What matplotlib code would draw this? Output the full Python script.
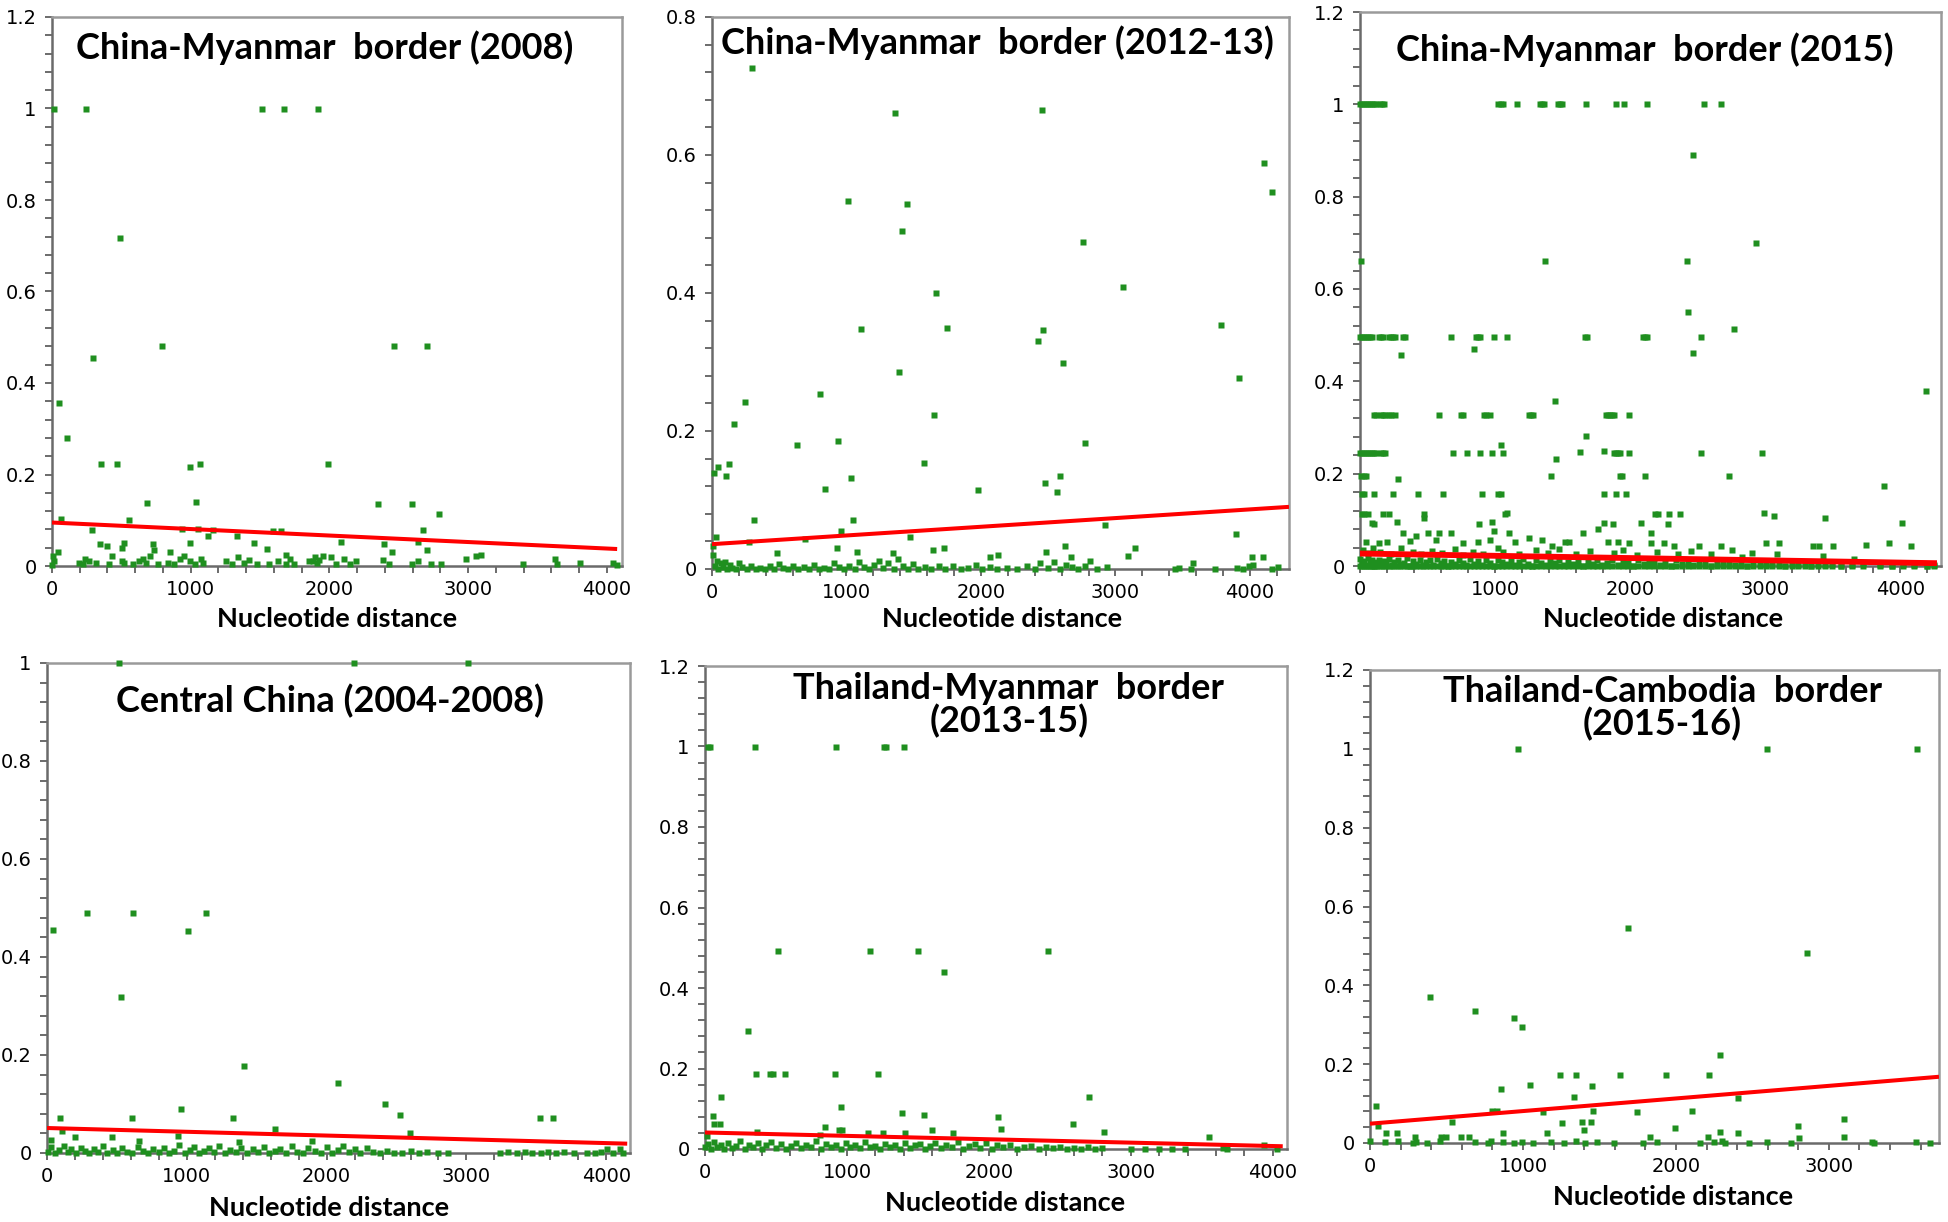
import numpy as np
import matplotlib
matplotlib.use('Agg')
import matplotlib.pyplot as plt
from matplotlib.ticker import MultipleLocator, FuncFormatter

W, H = 1949, 1222

# ---------------- data ----------------
titles = ['China-Myanmar  border (2008)',
          'China-Myanmar  border (2012-13)',
          'China-Myanmar  border (2015)',
          'Central China (2004-2008)',
          'Thailand-Myanmar  border\n(2013-15)',
          'Thailand-Cambodia  border\n(2015-16)']
xmax = [4110, 4290, 4300, 4170, 4100, 3720]
ymax = [1.2, 0.8, 1.2, 1.0, 1.2, 1.2]

# fitted (red) line: value at x=0, slope, x where it ends
fit_start = [0.095, 0.036, 0.027, 0.051, 0.041, 0.049]
fit_slope = [-1.42e-5, 1.26e-5, -4.9e-6, -7.7e-6, -8.4e-6, 3.2e-5]
fit_end = [4075, 4290, 4270, 4150, 4070, 3720]

# panel 1: China-Myanmar border (2008)
p1_x = [15, 248, 1513, 1672, 1916, 493, 299, 791, 2463, 2707,
        51, 110, 352, 472, 994, 1069, 1991, 687, 1039, 2349,
        2597, 2791, 66, 552, 290, 940, 1054, 1164, 1591, 1651,
        2678, 343, 397, 507, 522, 725, 994, 1128, 1337, 1454,
        1552, 2081, 2397, 2642, 2701, 2448, 45, 3090, 1687]
p1_y = [1, 1, 1, 1, 1, 0.718, 0.454, 0.481, 0.481, 0.481,
        0.356, 0.280, 0.222, 0.222, 0.217, 0.222, 0.222, 0.137, 0.140, 0.135,
        0.135, 0.114, 0.103, 0.101, 0.079, 0.080, 0.080, 0.079, 0.076, 0.076,
        0.079, 0.047, 0.043, 0.040, 0.050, 0.047, 0.050, 0.065, 0.065, 0.050,
        0.038, 0.052, 0.047, 0.052, 0.034, 0.031, 0.031, 0.025, 0.025]
p1_low_x = [15, 9, 194, 224, 239, 269, 319, 412, 433, 507,
            522, 582, 627, 657, 678, 707, 737, 761, 836, 851,
            881, 925, 955, 994, 1030, 1075, 1090, 1254, 1299, 1343,
            1388, 1418, 1478, 1567, 1627, 1687, 1716, 1746, 1851, 1881,
            1896, 1910, 1925, 1955, 2015, 2045, 2104, 2149, 2194, 2388,
            2433, 2597, 2642, 2731, 2985, 3394, 3627, 3642, 3806, 4045,
            3060, 2806, 0, 4075]
p1_low_y = [0.012, 0.022, 0.007, 0.004, 0.016, 0.012, 0.007, 0.004, 0.021, 0.012,
            0.007, 0.004, 0.010, 0.016, 0.007, 0.021, 0.034, 0.004, 0.007, 0.030,
            0.004, 0.016, 0.021, 0.012, 0.004, 0.016, 0.007, 0.012, 0.004, 0.019,
            0.007, 0.013, 0.004, 0.004, 0.012, 0.004, 0.016, 0.004, 0.010, 0.012,
            0.019, 0.007, 0.013, 0.021, 0.019, 0.004, 0.016, 0.004, 0.010, 0.013,
            0.004, 0.004, 0.012, 0.004, 0.016, 0.004, 0.016, 0.004, 0.007, 0.007,
            0.021, 0.004, 0.002, 0.003]

# panel 2: China-Myanmar border (2012-13)
p2_x = [299, 1364, 2454, 4102, 4167, 1009, 1448, 1410, 2759, 3056,
        1667, 3781, 1111, 1744, 2460, 2423, 2608, 1389, 3917, 802,
        244, 1648, 167, 938, 630, 2775, 1574, 130, 43, 15,
        105, 1031, 2590, 840, 1975, 2475, 2562, 309, 1046, 2923,
        3895, 957, 31, 1472, 694, 275, 6, 932, 1642, 1728,
        2623, 3148, 2485, 3093, 2068, 2130, 485, 1080, 1343, 2670,
        4012, 4096]
p2_y = [0.726, 0.661, 0.665, 0.588, 0.547, 0.533, 0.529, 0.490, 0.474, 0.409,
        0.400, 0.354, 0.348, 0.350, 0.347, 0.330, 0.298, 0.286, 0.277, 0.253,
        0.242, 0.223, 0.210, 0.185, 0.179, 0.183, 0.153, 0.152, 0.148, 0.139,
        0.135, 0.132, 0.135, 0.116, 0.115, 0.124, 0.111, 0.071, 0.071, 0.064,
        0.051, 0.055, 0.047, 0.047, 0.044, 0.039, 0.033, 0.030, 0.027, 0.031,
        0.033, 0.031, 0.024, 0.019, 0.018, 0.021, 0.023, 0.025, 0.023, 0.018,
        0.018, 0.018]
p2_low_x = [8, 22, 35, 48, 64, 80, 97, 115, 133, 152,
            176, 198, 225, 262, 290, 330, 355, 395, 430, 462,
            498, 530, 566, 600, 640, 685, 720, 760, 795, 830,
            868, 905, 945, 985, 1020, 1060, 1095, 1130, 1168, 1205,
            1240, 1275, 1312, 1350, 1385, 1420, 1460, 1498, 1535, 1580,
            1625, 1690, 1735, 1790, 1850, 1905, 1960, 2010, 2065, 2120,
            2190, 2265, 2340, 2400, 2440, 2495, 2540, 2585, 2630, 2680,
            2720, 2770, 2810, 2860, 2940, 3440, 3475, 3560, 3575, 3740,
            3905, 3950, 3990, 4020, 4160, 4210]
p2_low_y = [0.020, 0.005, 0.012, 0.000, 0.008, 0.003, 0.010, 0.000, 0.006, 0.002,
            0.000, 0.009, 0.003, 0.000, 0.005, 0.000, 0.002, 0.000, 0.004, 0.000,
            0.007, 0.002, 0.000, 0.005, 0.000, 0.003, 0.000, 0.006, 0.000, 0.002,
            0.000, 0.008, 0.003, 0.000, 0.005, 0.000, 0.010, 0.003, 0.000, 0.006,
            0.012, 0.002, 0.008, 0.000, 0.015, 0.004, 0.000, 0.007, 0.000, 0.003,
            0.000, 0.005, 0.000, 0.004, 0.000, 0.002, 0.006, 0.000, 0.003, 0.000,
            0.002, 0.000, 0.004, 0.000, 0.008, 0.002, 0.010, 0.000, 0.006, 0.003,
            0.000, 0.005, 0.012, 0.000, 0.003, 0.000, 0.002, 0.000, 0.008, 0.000,
            0.002, 0.000, 0.004, 0.006, 0.000, 0.003]

# panel 3: China-Myanmar border (2015) -- values sit on discrete levels
p3_levels = [1.0, 0.496, 0.328, 0.244, 0.195, 0.157, 0.113]
p3_level_x = [
    [0, 15, 30, 45, 60, 75, 90, 105, 120, 150, 165, 180, 1024, 1040, 1055, 1162,
     1330, 1345, 1361, 1468, 1483, 1498, 1676, 1896, 1957, 2125, 2547, 2670],
    [0, 15, 31, 46, 61, 76, 92, 138, 153, 168, 214, 229, 245, 260, 321, 336,
     673, 856, 872, 887, 994, 1086, 1667, 1682, 2095, 2110, 2125, 2523],
    [107, 122, 153, 168, 183, 214, 229, 260, 581, 749, 765, 917, 933, 963,
     1254, 1269, 1284, 1820, 1835, 1850, 1865, 1881, 1988],
    [0, 15, 31, 46, 61, 76, 92, 107, 122, 153, 168, 183, 688, 795, 887, 979,
     1055, 1881, 1896, 1911, 1927, 1988],
    [9, 31, 46, 1927, 1942],
    [15, 31, 107, 245, 428, 612, 902, 1024, 1040, 1804, 1896, 1972],
    [15, 31, 61, 168, 214, 474, 1070, 2187, 2202, 2287, 2370],
]
p3_x = [2468, 2930, 6, 1370, 2419, 2431, 2768, 2468, 306, 841,
        4190, 1443, 1673, 1040, 1453, 1416, 284, 1627, 1804, 2972,
        2523, 2728, 2107, 3878, 2988, 3067, 3440, 4015, 4076, 3914,
        3746]
p3_y = [0.891, 0.699, 0.660, 0.660, 0.660, 0.550, 0.514, 0.461, 0.458, 0.470,
        0.379, 0.357, 0.281, 0.262, 0.232, 0.195, 0.188, 0.248, 0.250, 0.244,
        0.244, 0.195, 0.195, 0.173, 0.115, 0.108, 0.104, 0.093, 0.044, 0.049,
        0.046]
p3_mid_x = [86, 107, 275, 474, 878, 979, 1086, 1804, 1872, 2080,
            2278, 321, 413, 505, 581, 673, 994, 1101, 1651, 2248,
            2156, 1758, 46, 138, 199, 367, 566, 765, 872, 963,
            1147, 1254, 1346, 1422, 1514, 1550, 1835, 1911, 1988, 2156,
            2324, 2508, 2670, 2752, 3006, 3104, 3349, 3394, 3502, 3425,
            3089, 2829, 3654,
            20, 60, 95, 150, 230, 300, 390, 450, 530, 610,
            700, 760, 840, 910, 1020, 1060, 1180, 1300, 1390, 1470,
            1600, 1700, 1880, 1950, 2050, 2200, 2350, 2450, 2600, 2900]
p3_mid_y = [0.093, 0.091, 0.095, 0.104, 0.090, 0.095, 0.115, 0.093, 0.091, 0.093,
            0.090, 0.071, 0.066, 0.071, 0.071, 0.071, 0.075, 0.071, 0.071, 0.049,
            0.071, 0.080, 0.053, 0.049, 0.053, 0.054, 0.056, 0.049, 0.053, 0.056,
            0.053, 0.060, 0.056, 0.043, 0.053, 0.053, 0.053, 0.053, 0.049, 0.049,
            0.044, 0.044, 0.044, 0.035, 0.049, 0.049, 0.044, 0.044, 0.044, 0.022,
            0.025, 0.020, 0.016,
            0.035, 0.028, 0.040, 0.030, 0.025, 0.038, 0.030, 0.026, 0.033, 0.028,
            0.036, 0.024, 0.031, 0.027, 0.040, 0.030, 0.026, 0.034, 0.029, 0.037,
            0.025, 0.032, 0.028, 0.035, 0.024, 0.030, 0.027, 0.033, 0.025, 0.028]
p3_low_x = [0, 12, 28, 41, 57, 73, 88, 104, 122, 139,
            158, 177, 196, 214, 236, 255, 278, 299, 322, 347,
            370, 394, 418, 443, 467, 492, 518, 543, 569, 596,
            622, 649, 676, 704, 731, 759, 787, 815, 844, 873,
            902, 931, 961, 991, 1021, 1052, 1083, 1114, 1145, 1177,
            1209, 1241, 1274, 1306, 1339, 1373, 1406, 1440, 1474, 1508,
            1543, 1578, 1613, 1649, 1685, 1721, 1757, 1794, 1831, 1868,
            1906, 1944, 1982, 2021, 2060, 2099, 2139, 2179, 2219, 2260,
            2301, 2342, 2384, 2426, 2468, 2511, 2554, 2597, 2641, 2685,
            2729, 2774, 2819, 2865, 2911, 2957, 3004, 3051, 3098, 3146,
            3194, 3243, 3292, 3341, 3391, 3441, 3492, 3560, 3640, 3720,
            3850, 3940, 4020, 4100, 4200, 4250]
p3_low_y = [0.015, 0.004, 0.010, 0.002, 0.018, 0.006, 0.012, 0.001, 0.008, 0.014,
            0.003, 0.011, 0.006, 0.016, 0.002, 0.009, 0.013, 0.004, 0.007, 0.017,
            0.001, 0.010, 0.005, 0.014, 0.003, 0.008, 0.012, 0.002, 0.015, 0.006,
            0.011, 0.001, 0.009, 0.004, 0.013, 0.007, 0.002, 0.016, 0.005, 0.010,
            0.003, 0.012, 0.006, 0.001, 0.014, 0.008, 0.004, 0.011, 0.002, 0.009,
            0.015, 0.005, 0.001, 0.012, 0.007, 0.003, 0.010, 0.006, 0.013, 0.002,
            0.008, 0.004, 0.011, 0.001, 0.009, 0.005, 0.014, 0.003, 0.007, 0.012,
            0.002, 0.010, 0.006, 0.001, 0.013, 0.004, 0.008, 0.011, 0.003, 0.007,
            0.001, 0.012, 0.005, 0.009, 0.002, 0.006, 0.010, 0.001, 0.008, 0.004,
            0.011, 0.003, 0.006, 0.001, 0.009, 0.005, 0.002, 0.007, 0.004, 0.001,
            0.006, 0.003, 0.008, 0.001, 0.005, 0.002, 0.004, 0.001, 0.003, 0.006,
            0.002, 0.001, 0.004, 0.002, 0.001, 0.003]

# panel 4: Central China (2004-2008)
p4_x = [518, 2195, 3009, 287, 612, 1136, 44, 1012, 530, 1411,
        2083, 2417, 959, 2527, 95, 607, 1328, 3527, 3621, 1633,
        2595, 109, 27, 198, 464, 938, 657, 1376, 1893, 4006,
        4095]
p4_y = [1.0, 1.0, 1.0, 0.489, 0.489, 0.489, 0.455, 0.453, 0.319, 0.177,
        0.143, 0.100, 0.089, 0.078, 0.072, 0.072, 0.072, 0.072, 0.072, 0.049,
        0.040, 0.045, 0.026, 0.032, 0.032, 0.034, 0.025, 0.023, 0.025, 0.008,
        0.008]
p4_low_x = [5, 30, 60, 85, 120, 150, 175, 210, 240, 270,
            300, 335, 365, 400, 430, 470, 500, 540, 575, 610,
            650, 690, 720, 760, 800, 835, 870, 905, 945, 985,
            1020, 1055, 1090, 1120, 1160, 1195, 1230, 1270, 1310, 1350,
            1390, 1430, 1470, 1510, 1550, 1590, 1630, 1670, 1710, 1750,
            1790, 1830, 1870, 1920, 1960, 2000, 2040, 2080, 2120, 2160,
            2200, 2240, 2290, 2330, 2380, 2430, 2480, 2540, 2600, 2660,
            2720, 2800, 2870, 3240, 3300, 3360, 3420, 3470, 3530, 3580,
            3640, 3700, 3770, 3860, 3920, 3960, 4050, 4120]
p4_low_y = [0.003, 0.012, 0.000, 0.006, 0.015, 0.002, 0.008, 0.000, 0.011, 0.004,
            0.000, 0.009, 0.002, 0.014, 0.000, 0.006, 0.001, 0.010, 0.003, 0.000,
            0.012, 0.005, 0.000, 0.008, 0.002, 0.011, 0.000, 0.004, 0.016, 0.001,
            0.007, 0.013, 0.000, 0.005, 0.010, 0.002, 0.014, 0.000, 0.006, 0.003,
            0.011, 0.000, 0.008, 0.002, 0.012, 0.000, 0.005, 0.009, 0.001, 0.014,
            0.003, 0.000, 0.010, 0.004, 0.001, 0.012, 0.000, 0.006, 0.014, 0.002,
            0.009, 0.000, 0.011, 0.003, 0.000, 0.005, 0.001, 0.000, 0.004, 0.000,
            0.002, 0.000, 0.001, 0.000, 0.002, 0.000, 0.003, 0.000, 0.001, 0.002,
            0.000, 0.003, 0.000, 0.001, 0.000, 0.002, 0.000, 0.001]

# panel 5: Thailand-Myanmar border (2013-15)
p5_x = [20, 35, 351, 921, 1263, 1278, 1401, 512, 1161, 1503,
        2418, 1687, 304, 357, 459, 480, 567, 918, 1219, 114,
        2705, 956, 1386, 1541, 2061, 56, 64, 108, 848, 2594,
        942, 962, 2088, 1599, 2813, 3553, 365, 810, 1146, 1257,
        1409, 1746, 15]
p5_y = [1.0, 1.0, 1.0, 1.0, 1.0, 1.0, 1.0, 0.492, 0.492, 0.492,
        0.492, 0.439, 0.294, 0.187, 0.187, 0.187, 0.187, 0.187, 0.187, 0.130,
        0.130, 0.105, 0.089, 0.085, 0.079, 0.082, 0.062, 0.062, 0.055, 0.062,
        0.047, 0.047, 0.050, 0.046, 0.041, 0.029, 0.041, 0.036, 0.040, 0.040,
        0.040, 0.040, 0.032]
p5_low_x = [0, 18, 40, 62, 85, 110, 135, 160, 190, 220,
            250, 280, 310, 340, 370, 400, 430, 465, 500, 535,
            570, 605, 640, 675, 710, 745, 780, 815, 850, 885,
            920, 955, 990, 1025, 1060, 1095, 1130, 1165, 1200, 1235,
            1270, 1305, 1340, 1375, 1410, 1445, 1480, 1515, 1550, 1585,
            1620, 1660, 1700, 1740, 1780, 1820, 1860, 1900, 1940, 1980,
            2020, 2060, 2100, 2150, 2200, 2250, 2300, 2350, 2400, 2450,
            2500, 2550, 2600, 2650, 2700, 2750, 2800, 3000, 3100, 3200,
            3290, 3380, 3650, 3680, 3940, 4030]
p5_low_y = [0.004, 0.012, 0.000, 0.018, 0.006, 0.010, 0.001, 0.015, 0.003, 0.008,
            0.020, 0.000, 0.011, 0.005, 0.014, 0.001, 0.009, 0.017, 0.003, 0.012,
            0.000, 0.007, 0.016, 0.002, 0.010, 0.005, 0.019, 0.001, 0.013, 0.004,
            0.009, 0.000, 0.015, 0.006, 0.011, 0.002, 0.018, 0.004, 0.008, 0.000,
            0.013, 0.006, 0.010, 0.001, 0.016, 0.003, 0.009, 0.012, 0.000, 0.007,
            0.014, 0.002, 0.010, 0.005, 0.017, 0.001, 0.008, 0.012, 0.003, 0.015,
            0.000, 0.009, 0.006, 0.011, 0.001, 0.004, 0.008, 0.000, 0.005, 0.002,
            0.006, 0.000, 0.003, 0.001, 0.004, 0.000, 0.002, 0.000, 0.001, 0.000,
            0.001, 0.000, 0.002, 0.000, 0.010, 0.000]

# panel 6: Thailand-Cambodia border (2015-16)
p6_x = [967, 2598, 3576, 1685, 2856, 389, 688, 940, 992, 2291,
        1239, 1348, 1633, 1932, 2215, 1049, 1454, 859, 1334, 2405,
        41, 796, 832, 1128, 1457, 1747, 2106, 3101, 533, 1258,
        1386, 1448, 54, 1992, 2799, 1402, 103, 179, 1158, 872,
        2291, 2405, 293, 465, 497, 598, 647, 1829, 2209, 3101,
        2802]
p6_y = [1.0, 1.0, 1.0, 0.546, 0.482, 0.370, 0.335, 0.318, 0.295, 0.222,
        0.173, 0.173, 0.173, 0.173, 0.173, 0.147, 0.144, 0.138, 0.117, 0.113,
        0.094, 0.082, 0.082, 0.079, 0.080, 0.079, 0.080, 0.060, 0.053, 0.051,
        0.053, 0.053, 0.042, 0.039, 0.042, 0.033, 0.025, 0.025, 0.025, 0.025,
        0.028, 0.025, 0.016, 0.016, 0.016, 0.016, 0.016, 0.016, 0.016, 0.016,
        0.013]
p6_low_x = [0, 95, 185, 280, 299, 370, 457, 688, 769, 788,
            872, 940, 995, 1068, 1182, 1266, 1348, 1408, 1484, 1598,
            1783, 1875, 2155, 2250, 2299, 2318, 2481, 2598, 2753, 3283,
            3296, 3568, 3663]
p6_low_y = [0.005, 0.002, 0.004, 0.001, 0.003, 0.000, 0.004, 0.002, 0.001, 0.004,
            0.002, 0.000, 0.003, 0.001, 0.002, 0.000, 0.004, 0.001, 0.002, 0.000,
            0.001, 0.003, 0.000, 0.002, 0.004, 0.001, 0.000, 0.002, 0.001, 0.003,
            0.001, 0.002, 0.001]

# collect points per panel
p3_band_x = [x for xs in p3_level_x for x in xs]
p3_band_y = [lv for lv, xs in zip(p3_levels, p3_level_x) for _ in xs]
points = [
    (p1_x + p1_low_x, p1_y + p1_low_y),
    (p2_x + p2_low_x, p2_y + p2_low_y),
    (p3_band_x + p3_x + p3_mid_x + p3_low_x + p3_low_x,
     p3_band_y + p3_y + p3_mid_y + p3_low_y + [0.0] * len(p3_low_x)),
    (p4_x + p4_low_x, p4_y + p4_low_y),
    (p5_x + p5_low_x, p5_y + p5_low_y),
    (p6_x + p6_low_x, p6_y + p6_low_y),
]

# ---------------- layout (pixel boxes: left, right, top, bottom) ----------------
boxes = [(52, 622, 17, 566), (712, 1289, 17, 569), (1360, 1941, 12, 566),
         (47, 630, 663, 1153), (705, 1287, 666, 1149), (1370, 1939, 670, 1143)]
title_pos = [(0.479, 0.945), (0.494, 0.954), (0.49, 0.932),
             (0.485, 0.923), (0.522, 0.919), (0.514, 0.92)]
xlabel_pos = [(0.50, -0.097), (0.503, -0.091), (0.521, -0.096),
              (0.484, -0.112), (0.516, -0.112), (0.533, -0.114)]

green = '#1f8f1f'
fig = plt.figure(figsize=(W / 100, H / 100), dpi=100)
fig.patch.set_facecolor('white')

fmt = FuncFormatter(lambda v, p: '%g' % round(v, 2))

for i in range(6):
    l, r, t, b = boxes[i]
    ax = fig.add_axes([l / W, 1 - b / H, (r - l) / W, (b - t) / H])
    ax.set_xlim(0, xmax[i])
    ax.set_ylim(0, ymax[i])

    xs, ys = points[i]
    ax.plot(xs, ys, 's', ms=4.0, mec='none', color=green, clip_on=False, zorder=3)

    fx = np.array([0, fit_end[i]])
    ax.plot(fx, fit_start[i] + fit_slope[i] * fx, color='#ff0000',
            lw=4.2 if i == 2 else 2.9, solid_capstyle='butt', zorder=4)

    ax.xaxis.set_major_locator(MultipleLocator(1000))
    ax.xaxis.set_minor_locator(MultipleLocator(200))
    ax.yaxis.set_major_locator(MultipleLocator(0.2))
    ax.yaxis.set_minor_locator(MultipleLocator(0.04))
    ax.xaxis.set_major_formatter(fmt)
    ax.yaxis.set_major_formatter(fmt)
    ax.tick_params(which='both', direction='out', length=5, width=1.3,
                   color='#606060', top=False, right=False)
    ax.tick_params(axis='both', which='major', labelsize=14, labelcolor='black')
    ax.tick_params(axis='x', which='major', pad=5)
    ax.tick_params(axis='y', which='major', pad=6)
    for lab in ax.get_xticklabels() + ax.get_yticklabels():
        lab.set_family('DejaVu Sans')

    for side in ['top', 'right']:
        ax.spines[side].set_color('#9a9a9a')
        ax.spines[side].set_linewidth(1.8)
    for side in ['left', 'bottom']:
        ax.spines[side].set_color('#6a6a6a')
        ax.spines[side].set_linewidth(1.8)

    tx, ty = title_pos[i]
    ax.text(tx, ty, titles[i], transform=ax.transAxes, ha='center', va='center',
            fontsize=26, fontweight='bold', family='Lato', linespacing=0.95,
            color='black', zorder=5)

    ax.set_xlabel('Nucleotide distance', fontsize=19.5, fontweight='bold', family='Lato')
    ax.xaxis.label.set_va('center')
    ax.xaxis.set_label_coords(*xlabel_pos[i])

fig.savefig('out.png', dpi=100, facecolor='white')
